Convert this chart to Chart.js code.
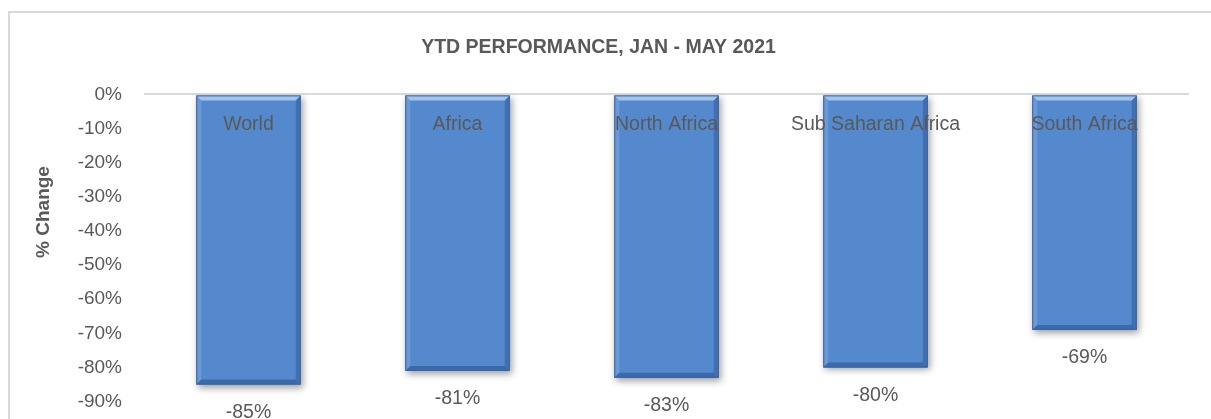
<!DOCTYPE html>
<html>
<head>
<meta charset="utf-8">
<script src="https://cdn.jsdelivr.net/npm/chart.js@4.4.1/dist/chart.umd.min.js"></script>
<style>
  html, body { margin: 0; padding: 0; background: #fff; overflow: hidden; }
  #wrap { position: relative; width: 1211px; height: 419px; overflow: hidden; }
  #frame { position: absolute; left: 8px; top: 11px; width: 1220px; height: 460px; border: 2px solid #d9d9d9; box-sizing: border-box; }
  canvas { position: absolute; left: 0; top: 0; }
</style>
</head>
<body>
<div id="wrap">
  <div id="frame"></div>
  <canvas id="c" width="1211" height="435"></canvas>
</div>
<script>
const categories = ["World", "Africa", "North Africa", "Sub Saharan Africa", "South Africa"];
const values = [-0.85, -0.81, -0.83, -0.80, -0.69];
const valueLabels = ["-85%", "-81%", "-83%", "-80%", "-69%"];
const yTicks = [0, -0.1, -0.2, -0.3, -0.4, -0.5, -0.6, -0.7, -0.8, -0.9];
const chartTitle = "YTD PERFORMANCE, JAN - MAY 2021";
const yTitle = "% Change";

const FONT = "'Liberation Sans', Arial, sans-serif";
const TXT = "#595959";

const bevelPlugin = {
  id: 'bevel',
  beforeDatasetDraw(chart) {
    const ctx = chart.ctx;
    ctx.save();
    ctx.shadowColor = 'rgba(0,0,0,0.38)';
    ctx.shadowBlur = 7;
    ctx.shadowOffsetX = 2;
    ctx.shadowOffsetY = 3;
  },
  afterDatasetDraw(chart) {
    const ctx = chart.ctx;
    ctx.restore();
    const meta = chart.getDatasetMeta(0);
    meta.data.forEach((bar) => {
      const p = bar.getProps(['x', 'y', 'base', 'width'], true);
      const l = p.x - p.width / 2, r = p.x + p.width / 2;
      const t = Math.min(p.y, p.base), b = Math.max(p.y, p.base);
      const d = 5;
      ctx.save();
      ctx.fillStyle = '#a0c5f1';
      ctx.beginPath(); ctx.moveTo(l, t); ctx.lineTo(r, t); ctx.lineTo(r - d, t + d); ctx.lineTo(l + d, t + d); ctx.closePath(); ctx.fill();
      ctx.fillStyle = 'rgba(130,170,225,0.5)';
      ctx.beginPath(); ctx.moveTo(l, t); ctx.lineTo(l + d, t + d); ctx.lineTo(l + d, b - d); ctx.lineTo(l, b); ctx.closePath(); ctx.fill();
      ctx.fillStyle = 'rgba(45,85,145,0.5)';
      ctx.beginPath(); ctx.moveTo(r, t); ctx.lineTo(r - d, t + d); ctx.lineTo(r - d, b - d); ctx.lineTo(r, b); ctx.closePath(); ctx.fill();
      ctx.fillStyle = '#3c69a8';
      ctx.beginPath(); ctx.moveTo(l, b); ctx.lineTo(r, b); ctx.lineTo(r - d, b - d); ctx.lineTo(l + d, b - d); ctx.closePath(); ctx.fill();
      ctx.strokeStyle = '#3a64a0';
      ctx.lineWidth = 1;
      ctx.strokeRect(l + 0.5, t + 0.5, p.width - 1, b - t - 1);
      ctx.restore();
    });
  }
};

const labelPlugin = {
  id: 'labels',
  afterDatasetsDraw(chart) {
    const ctx = chart.ctx;
    const meta = chart.getDatasetMeta(0);
    ctx.save();
    ctx.fillStyle = TXT;
    ctx.font = "19.5px " + FONT;
    ctx.textAlign = 'center';
    ctx.textBaseline = 'middle';
    meta.data.forEach((bar, i) => {
      const p = bar.getProps(['x', 'y', 'base'], true);
      ctx.fillText(categories[i], p.x, p.base + 29);
      ctx.fillText(valueLabels[i], p.x, p.y + 28);
    });
    ctx.font = "bold 19px " + FONT;
    ctx.translate(44, 212);
    ctx.rotate(-Math.PI / 2);
    ctx.fillText(yTitle, 0, 0);
    ctx.restore();
  }
};

new Chart(document.getElementById('c'), {
  type: 'bar',
  data: {
    labels: categories,
    datasets: [{
      data: values,
      backgroundColor: (c) => {
        const el = c.element;
        if (!c.chart.chartArea || !el || el.x === undefined || !isFinite(el.base) || !isFinite(el.y)) return '#5589cd';
        const g = c.chart.ctx.createLinearGradient(0, el.base, 0, el.y);
        g.addColorStop(0, '#6698d8');
        g.addColorStop(1, '#4579bf');
        return g;
      },
      borderWidth: 0,
      categoryPercentage: 1.0,
      barPercentage: 0.5
    }]
  },
  options: {
    responsive: false,
    animation: false,
    events: [],
    layout: { padding: { top: 0, left: 8, right: 22, bottom: 10 } },
    plugins: {
      legend: { display: false },
      tooltip: { enabled: false },
      title: {
        display: true,
        text: chartTitle,
        color: TXT,
        font: { family: FONT, size: 19.5, weight: 'bold' },
        padding: { top: 36, bottom: 35 }
      }
    },
    scales: {
      x: {
        display: false,
        grid: { display: false }
      },
      y: {
        min: -0.9,
        max: 0,
        afterBuildTicks: (s) => { s.ticks = yTicks.map(v => ({ value: v })); },
        afterFit: (s) => { s.width = 136; },
        border: { display: false },
        grid: {
          drawTicks: false,
          color: (c) => (c.tick && c.tick.value === 0) ? '#d9d9d9' : 'rgba(0,0,0,0)',
          lineWidth: 2
        },
        ticks: {
          color: TXT,
          font: { family: FONT, size: 19 },
          padding: 22,
          callback: (v) => Math.round(v * 100) + '%'
        }
      }
    }
  },
  plugins: [bevelPlugin, labelPlugin]
});
</script>
</body>
</html>
